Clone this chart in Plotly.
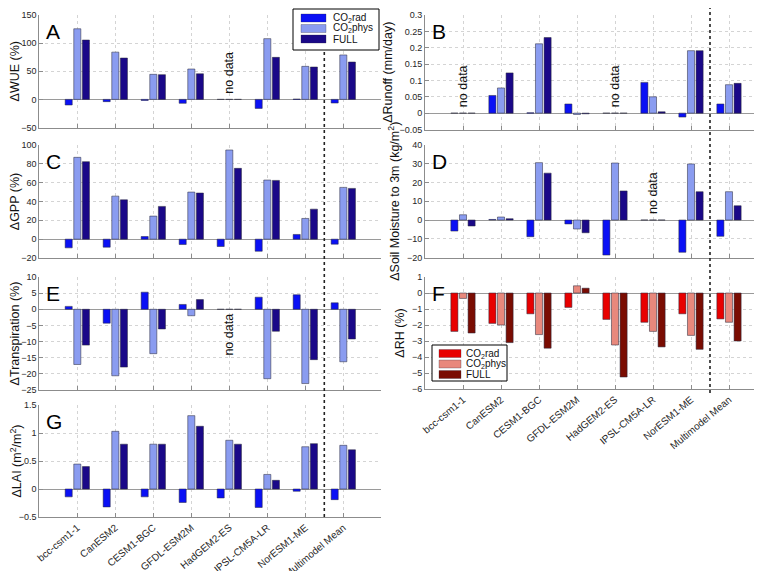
import plotly.graph_objects as go

models = ["bcc-csm1-1", "CanESM2", "CESM1-BGC", "GFDL-ESM2M", "HadGEM2-ES",
          "IPSL-CM5A-LR", "NorESM1-ME", "Multimodel Mean"]
xpos = [1, 2, 3, 4, 5, 6, 7, 8]
series_names = ["CO<sub>2</sub>rad", "CO<sub>2</sub>phys", "FULL"]

# Panel A: ΔWUE (%)
wue_rad = [-10, -4, -2, -7, 0, -16, 0.5, -6.5]
wue_phys = [125.5, 84, 44.5, 54, 0, 108, 58.7, 79]
wue_full = [105.5, 73.5, 44, 45.5, 0, 74.7, 57.5, 66.4]
# Panel B: ΔRunoff (mm/day)
run_rad = [0, 0.054, 0.001, 0.028, 0, 0.094, -0.012, 0.028]
run_phys = [0, 0.077, 0.212, -0.004, 0, 0.050, 0.191, 0.087]
run_full = [0, 0.123, 0.231, -0.002, 0, 0.004, 0.191, 0.091]
# Panel C: ΔGPP (%)
gpp_rad = [-9.2, -8.5, 2.8, -5.7, -7.8, -12.8, 5, -5.3]
gpp_phys = [86.9, 45.7, 24.5, 50, 94.7, 62.8, 22, 55]
gpp_full = [82.3, 41.8, 34.8, 49, 75.2, 62.4, 31.9, 53.9]
# Panel D: ΔSoil Moisture to 3m (kg/m2)
sm_rad = [-5.9, 0.3, -8.9, -2.1, -18.7, 0, -17.2, -8.7]
sm_phys = [2.8, 1.6, 30.6, -4.8, 30.4, 0, 29.9, 15.1]
sm_full = [-3.2, 0.7, 25, -6.8, 15.5, 0, 15.1, 7.6]
# Panel E: ΔTranspiration (%)
tr_rad = [0.9, -4.3, 5.3, 1.5, 0, 3.75, 4.5, 2.0]
tr_phys = [-17.1, -20.6, -13.75, -2, 0, -21.5, -23, -16.25]
tr_full = [-11.1, -17.9, -6.1, 3.0, 0, -6.8, -15.6, -9.2]
# Panel F: ΔRH (%)
rh_rad = [-2.4, -1.9, -1.3, -0.9, -1.65, -1.83, -1.3, -1.62]
rh_phys = [-0.34, -2.0, -2.6, 0.45, -3.25, -2.4, -2.65, -1.83]
rh_full = [-2.5, -3.1, -3.45, 0.3, -5.25, -3.37, -3.52, -3.0]
# Panel G: ΔLAI (m2/m2)
lai_rad = [-0.14, -0.32, -0.14, -0.24, -0.16, -0.33, -0.04, -0.19]
lai_phys = [0.445, 1.03, 0.80, 1.31, 0.87, 0.26, 0.755, 0.78]
lai_full = [0.40, 0.80, 0.80, 1.12, 0.80, 0.155, 0.81, 0.70]

blues = ["#0a10f5", "#8a9cf0", "#1a0888"]
reds = ["#e80000", "#e8887c", "#7a0c02"]

W, H = 762, 571
def px_x(a, b):
    return [a / W, b / W]
def px_y(top, bot):
    return [1 - bot / H, 1 - top / H]

LEFT = px_x(31.3, 373.3)
RIGHT = px_x(417, 759)

panels = [
    ("A", LEFT, (7, 119.5), (wue_rad, wue_phys, wue_full), blues, [-50, 150], 50,
     "ΔWUE (%)", [5]),
    ("B", RIGHT, (7, 121.5), (run_rad, run_phys, run_full), blues, [-0.05, 0.3], 0.05,
     "ΔRunoff (mm/day)", [1, 5]),
    ("C", LEFT, (137, 250), (gpp_rad, gpp_phys, gpp_full), blues, [-20, 100], 20,
     "ΔGPP (%)", []),
    ("D", RIGHT, (137, 249.5), (sm_rad, sm_phys, sm_full), blues, [-20, 40], 10,
     "ΔSoil Moisture to 3m (kg/m<sup>2</sup>)", [6]),
    ("E", LEFT, (269, 382), (tr_rad, tr_phys, tr_full), blues, [-25, 10], 5,
     "ΔTranspiration (%)", [5]),
    ("F", RIGHT, (269, 381), (rh_rad, rh_phys, rh_full), reds, [-6, 1], 1,
     "ΔRH (%)", []),
    ("G", LEFT, (397, 509), (lai_rad, lai_phys, lai_full), blues, [-0.5, 1.5], 0.5,
     "ΔLAI (m<sup>2</sup>/m<sup>2</sup>)", []),
]

fig = go.Figure()
font_family = "Liberation Sans, Arial, sans-serif"
grid_col = "#d4d4d4"
axis_col = "#8c8c8c"
annotations = []
shapes = []

for k, (pid, xdom, ydom_px, series, cols, yr, dt, ytitle, nodata) in enumerate(panels):
    n = k + 1
    xa = "x" if n == 1 else f"x{n}"
    ya = "y" if n == 1 else f"y{n}"
    xkey = "xaxis" if n == 1 else f"xaxis{n}"
    ykey = "yaxis" if n == 1 else f"yaxis{n}"
    for s in range(3):
        fig.add_trace(go.Bar(
            x=xpos, y=series[s], name=series_names[s],
            marker=dict(color=cols[s], line=dict(color="rgba(40,40,60,0.75)", width=0.7)),
            xaxis=xa, yaxis=ya, offsetgroup=str(s), showlegend=False,
        ))
    bottom_label = pid in ("F", "G")
    fig.layout[xkey] = dict(
        domain=xdom, anchor=ya, range=[0, 9], automargin=False,
        tickmode="array", tickvals=xpos, ticktext=models,
        showticklabels=bottom_label, tickangle=-40,
        ticks="inside", ticklen=4, tickcolor=axis_col,
        showgrid=True, gridcolor=grid_col, griddash="dot", gridwidth=1,
        showline=True, linecolor=axis_col, linewidth=1,
        zeroline=False,
        tickfont=dict(size=10, color="#262626", family=font_family),
    )
    fig.layout[ykey] = dict(
        domain=px_y(*ydom_px), anchor=xa, range=yr, dtick=dt, automargin=False,
        ticks="inside", ticklen=4, tickcolor=axis_col,
        showgrid=True, gridcolor=grid_col, griddash="dot", gridwidth=1,
        showline=True, linecolor=axis_col, linewidth=1,
        zeroline=True, zerolinecolor="#9a9a9a", zerolinewidth=1,
        tickfont=dict(size=9, color="#262626", family=font_family),
        title=dict(text=ytitle, font=dict(size=12.5, color="#111", family=font_family), standoff=4),
    )
    annotations.append(dict(
        text=pid, xref=f"{xa} domain", yref=f"{ya} domain", x=0.015, y=0.97,
        xanchor="left", yanchor="top", showarrow=False,
        font=dict(size=21, color="black", family=font_family)))
    for c in nodata:
        below = pid == "E"
        annotations.append(dict(
            text="no data", xref=xa, yref=ya, x=c, y=0, textangle=-90,
            xanchor="center", yanchor="top" if below else "bottom",
            yshift=-2 if below else 4, showarrow=False,
            font=dict(size=12.5, color="#111", family=font_family)))

# dotted separators before the Multimodel Mean
shapes.append(dict(type="line", xref="x", yref="paper", x0=7.5, x1=7.5,
                   y0=px_y(397, 509)[0], y1=1.0,
                   line=dict(color="#222", width=1.6, dash="dot"), layer="above"))
shapes.append(dict(type="line", xref="x2", yref="paper", x0=7.5, x1=7.5,
                   y0=px_y(269, 385)[0], y1=1.0,
                   line=dict(color="#222", width=1.6, dash="dot"), layer="above"))

# legends (drawn as boxes, swatches and texts)
def add_legend(box, sw_x, text_x, rows, cols):
    x0, x1, y0, y1 = box
    shapes.append(dict(type="rect", xref="paper", yref="paper",
                       x0=x0 / W, x1=x1 / W, y0=1 - y1 / H, y1=1 - y0 / H,
                       fillcolor="white", line=dict(color="black", width=1), layer="above"))
    for name, col, yc in zip(series_names, cols, rows):
        shapes.append(dict(type="rect", xref="paper", yref="paper",
                           x0=sw_x[0] / W, x1=sw_x[1] / W,
                           y0=1 - (yc + 4) / H, y1=1 - (yc - 4) / H,
                           fillcolor=col, line=dict(color="rgba(40,40,60,0.6)", width=0.5),
                           layer="above"))
        annotations.append(dict(text=name, xref="paper", yref="paper",
                                x=text_x / W, y=1 - yc / H, xanchor="left", yanchor="middle",
                                showarrow=False, borderpad=0,
                                font=dict(size=10, color="#111", family=font_family)))

add_legend((285, 371, 1, 42), (293, 318), 324, [10, 20.5, 31], blues)
add_legend((424, 499, 337, 373), (431, 453), 457, [345.5, 356, 366.5], reds)

fig.update_layout(
    width=W, height=H, margin=dict(l=0, r=0, t=0, b=0),
    paper_bgcolor="white", plot_bgcolor="white",
    barmode="group", bargap=0.32, bargroupgap=0.18,
    font=dict(family=font_family), showlegend=False,
    annotations=annotations, shapes=shapes,
)

fig.write_html("out.html")
